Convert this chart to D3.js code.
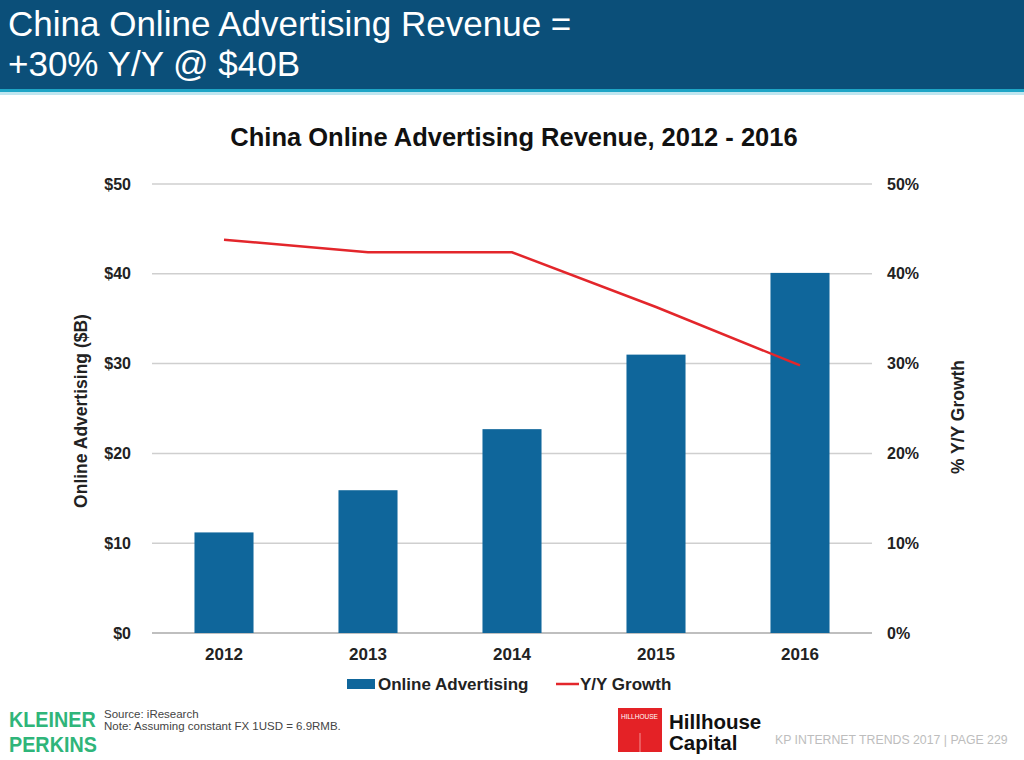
<!doctype html>
<html lang="en">
<head>
<meta charset="utf-8">
<title>China Online Advertising Revenue</title>
<style>
  body { margin: 0; background: #fff; font-family: "Liberation Sans", Arial, sans-serif; }
  svg text { font-family: "Liberation Sans", Arial, sans-serif; }
  .tick text { font-weight: bold; font-size: 16px; fill: #222; }
  .xaxis .tick text { font-size: 17px; }
</style>
</head>
<body>
<svg id="chart" width="1024" height="760"></svg>
<script src="https://cdn.jsdelivr.net/npm/d3@7"></script>
<script>
// data
const years = ["2012", "2013", "2014", "2015", "2016"];
const revenue = [11.2, 15.9, 22.7, 31.0, 40.1];      // $B
const growth = [0.438, 0.424, 0.424, 0.363, 0.298];  // Y/Y
const revTicks = [0, 10, 20, 30, 40, 50];
const pctTicks = [0, 0.1, 0.2, 0.3, 0.4, 0.5];

const svg = d3.select("#chart");
const plotL = 152, plotR = 872, plotT = 184, plotB = 633;

// slide header
svg.append("rect").attr("x", 0).attr("y", 0).attr("width", 1024).attr("height", 89).attr("fill", "#0b4f79");
svg.append("rect").attr("x", 0).attr("y", 89).attr("width", 1024).attr("height", 3).attr("fill", "#1ea5c6");
svg.append("rect").attr("x", 0).attr("y", 92).attr("width", 1024).attr("height", 3).attr("fill", "#bfe6f0");
const head = svg.append("text").attr("fill", "#fff").attr("font-size", 35);
head.append("tspan").attr("x", 8).attr("y", 36).text("China Online Advertising Revenue =");
head.append("tspan").attr("x", 8).attr("y", 76).text("+30% Y/Y @ $40B");

// chart title
svg.append("text").attr("x", 514).attr("y", 146).attr("text-anchor", "middle")
  .attr("font-size", 25.5).attr("font-weight", "bold").attr("fill", "#111")
  .text("China Online Advertising Revenue, 2012 - 2016");

const x = d3.scaleBand().domain(years).range([plotL, plotR]).paddingInner(0.59).paddingOuter(0.295);
const y = d3.scaleLinear().domain([0, 50]).range([plotB, plotT]);
const y2 = d3.scaleLinear().domain([0, 0.5]).range([plotB, plotT]);

// gridlines
svg.append("g").selectAll("line").data(revTicks).join("line")
  .attr("x1", plotL).attr("x2", plotR)
  .attr("y1", d => y(d)).attr("y2", d => y(d))
  .attr("stroke", d => d === 0 ? "#aaa" : "#cfcfcf").attr("stroke-width", 1.5);

// axes
const yAxis = svg.append("g").attr("transform", `translate(${plotL - 14},0)`)
  .call(d3.axisLeft(y).tickValues(revTicks).tickSize(0).tickPadding(7).tickFormat(d => "$" + d));
yAxis.select(".domain").remove();

const y2Axis = svg.append("g").attr("transform", `translate(${plotR + 8},0)`)
  .call(d3.axisRight(y2).tickValues(pctTicks).tickSize(0).tickPadding(7).tickFormat(d3.format(".0%")));
y2Axis.select(".domain").remove();

const xAxis = svg.append("g").attr("class", "xaxis").attr("transform", `translate(0,${plotB + 11})`)
  .call(d3.axisBottom(x).tickSize(0).tickPadding(4));
xAxis.select(".domain").remove();

// bars
svg.append("g").selectAll("rect").data(years).join("rect")
  .attr("x", d => x(d)).attr("width", x.bandwidth())
  .attr("y", (d, i) => y(revenue[i])).attr("height", (d, i) => plotB - y(revenue[i]))
  .attr("fill", "#0f669b");

// growth line
const line = d3.line().x((d, i) => x(years[i]) + x.bandwidth() / 2).y(d => y2(d));
svg.append("path").datum(growth).attr("d", line)
  .attr("fill", "none").attr("stroke", "#e3262b").attr("stroke-width", 2.5);

// axis titles
svg.append("text").attr("transform", "translate(87,411) rotate(-90)").attr("text-anchor", "middle")
  .attr("font-size", 17.5).attr("font-weight", "bold").attr("fill", "#222").text("Online Advertising ($B)");
svg.append("text").attr("transform", "translate(964,417) rotate(-90)").attr("text-anchor", "middle")
  .attr("font-size", 17.5).attr("font-weight", "bold").attr("fill", "#222").text("% Y/Y Growth");

// legend
const lg = svg.append("g").attr("font-size", 17).attr("font-weight", "bold").attr("fill", "#222");
lg.append("rect").attr("x", 347).attr("y", 679).attr("width", 28).attr("height", 10).attr("fill", "#0f669b");
lg.append("text").attr("x", 378).attr("y", 690).text("Online Advertising");
lg.append("line").attr("x1", 556).attr("x2", 579).attr("y1", 684).attr("y2", 684)
  .attr("stroke", "#e3262b").attr("stroke-width", 2.5);
lg.append("text").attr("x", 580).attr("y", 690).text("Y/Y Growth");

// footer: condensed wordmark done by squeezing a normal bold face
const kp = svg.append("g").attr("transform", "translate(9,0) scale(0.92,1)")
  .attr("fill", "#2fb57a").attr("font-size", 21.5).attr("font-weight", "bold");
kp.append("text").attr("x", 0).attr("y", 727).text("KLEINER");
kp.append("text").attr("x", 0).attr("y", 752).text("PERKINS");
const src = svg.append("text").attr("fill", "#444").attr("font-size", 11.5);
src.append("tspan").attr("x", 104).attr("y", 718).text("Source: iResearch");
src.append("tspan").attr("x", 104).attr("y", 730).text("Note: Assuming constant FX 1USD = 6.9RMB.");

svg.append("rect").attr("x", 618).attr("y", 708).attr("width", 44).attr("height", 44).attr("fill", "#e42226");
svg.append("text").attr("x", 621).attr("y", 719).attr("font-size", 6.5).attr("fill", "#fff").text("HILLHOUSE");
svg.append("line").attr("x1", 640).attr("x2", 640).attr("y1", 733).attr("y2", 752).attr("stroke", "#f6b0b0").attr("stroke-width", 0.8);
const hh = svg.append("text").attr("fill", "#111").attr("font-size", 20.5).attr("font-weight", "bold");
hh.append("tspan").attr("x", 669).attr("y", 729).text("Hillhouse");
hh.append("tspan").attr("x", 669).attr("y", 750).text("Capital");
svg.append("text").attr("x", 775).attr("y", 744).attr("font-size", 12.3).attr("fill", "#bdbdbd")
  .text("KP INTERNET TRENDS 2017  |  PAGE 229");
</script>
</body>
</html>
